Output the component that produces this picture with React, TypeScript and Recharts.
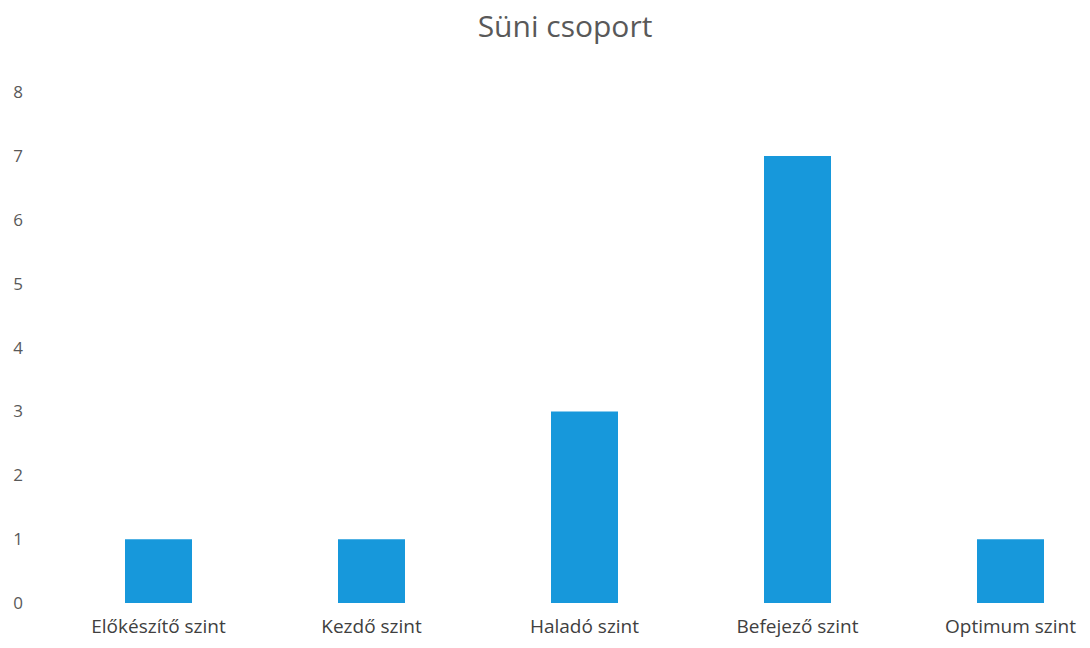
import React from 'react';
import { BarChart, Bar, XAxis, YAxis } from 'recharts';

const levels = ['Előkészítő szint', 'Kezdő szint', 'Haladó szint', 'Befejező szint', 'Optimum szint'];
const counts = [1, 1, 3, 7, 1];
const yTicks = [0, 1, 2, 3, 4, 5, 6, 7, 8];

const chartData = levels.map((name, i) => ({ name, count: counts[i] }));

const font = '"Open Sans", Lato, sans-serif';

export default function App() {
  return (
    <div
      style={{
        position: 'absolute',
        left: 0,
        top: 0,
        width: 1090,
        height: 648,
        overflow: 'hidden',
        background: '#fff',
        fontFamily: font
      }}
    >
      <div
        style={{
          position: 'absolute',
          top: 5,
          left: 0,
          width: 1130,
          textAlign: 'center',
          fontSize: 30,
          color: '#595959'
        }}
      >
        Süni csoport
      </div>
      <BarChart
        width={1117}
        height={648}
        data={chartData}
        margin={{ top: 92, right: 0, bottom: 0, left: 0 }}
      >
        <XAxis
          dataKey="name"
          axisLine={false}
          tickLine={false}
          height={45}
          tickMargin={11}
          interval={0}
          tick={{ fill: '#404040', fontSize: 19, fontFamily: font }}
        />
        <YAxis
          domain={[0, 8]}
          ticks={yTicks}
          axisLine={false}
          tickLine={false}
          width={52}
          tickMargin={23}
          tick={{ fill: '#595959', fontSize: 17, fontFamily: font }}
        />
        <Bar dataKey="count" fill="#1798db" barSize={67} isAnimationActive={false} />
      </BarChart>
    </div>
  );
}
